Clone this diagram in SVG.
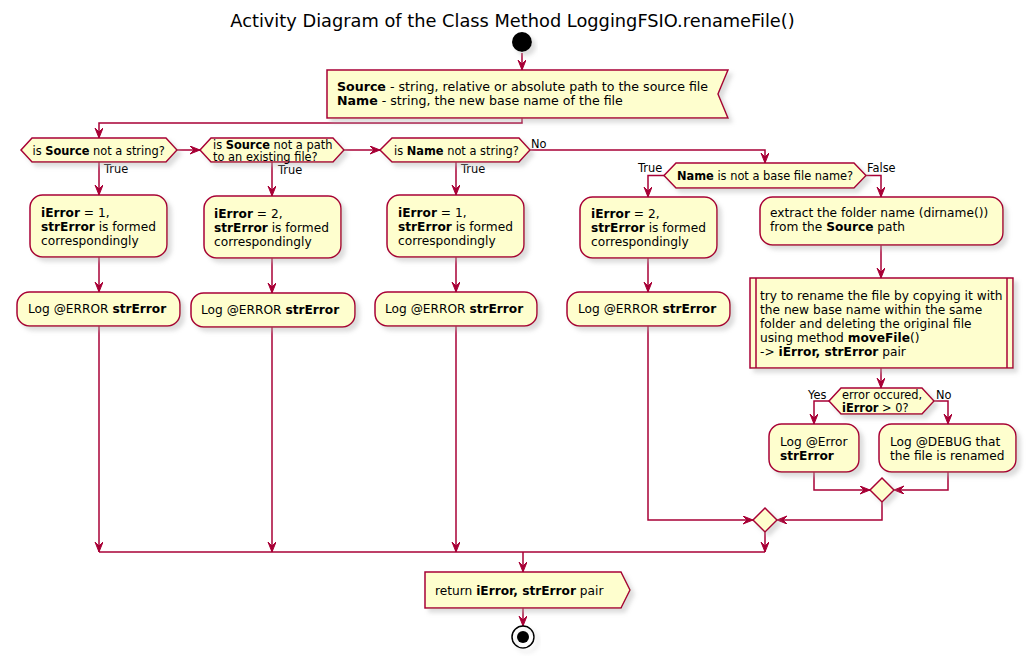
<svg xmlns="http://www.w3.org/2000/svg" width="1026" height="656" viewBox="0 0 1026 656">
<style>
.sh{fill:#FEFECE;stroke:#A80036;stroke-width:1.5}
.ln{fill:none;stroke:#A80036;stroke-width:1.5}
.t{font-family:"DejaVu Sans",sans-serif;font-size:12.2px;fill:#000}
.ti{font-family:"DejaVu Sans",sans-serif;font-size:12.6px;fill:#000}
.d{font-family:"DejaVu Sans",sans-serif;font-size:11.4px;fill:#000}
.b{font-weight:bold}
.title{font-family:"DejaVu Sans",sans-serif;font-size:17.8px;fill:#000}
</style>
<defs>
<filter id="shadow" x="-20%" y="-20%" width="150%" height="160%">
<feGaussianBlur in="SourceAlpha" stdDeviation="2"/>
<feOffset dx="4" dy="4"/>
<feColorMatrix type="matrix" values="0 0 0 0 0.45 0 0 0 0 0.45 0 0 0 0 0.45 0 0 0 0.45 0"/>
<feMerge><feMergeNode/><feMergeNode in="SourceGraphic"/></feMerge>
</filter>
<marker id="ah" markerUnits="userSpaceOnUse" markerWidth="12" markerHeight="10" refX="10" refY="4" orient="auto" viewBox="0 0 12 10">
<path d="M0,0 L10,4 L0,8 L4,4 Z" fill="#A80036" stroke="#A80036" stroke-width="1"/>
</marker>
</defs>
<rect width="1026" height="656" fill="#FFFFFF"/>
<text class="title" x="512.5" y="27" text-anchor="middle">Activity Diagram of the Class Method LoggingFSIO.renameFile()</text>

<g id="connectors">
<path class="ln" d="M522,53 V70" marker-end="url(#ah)"/>
<path class="ln" d="M522,118 V123 H99 V138" marker-end="url(#ah)"/>
<path class="ln" d="M177,150 H200" marker-end="url(#ah)"/>
<path class="ln" d="M344,150 H380" marker-end="url(#ah)"/>
<path class="ln" d="M530,150 H765 V163" marker-end="url(#ah)"/>
<path class="ln" d="M99,162 V195" marker-end="url(#ah)"/>
<path class="ln" d="M99,257 V292" marker-end="url(#ah)"/>
<path class="ln" d="M99,326 V552" marker-end="url(#ah)"/>
<path class="ln" d="M272,162 V196" marker-end="url(#ah)"/>
<path class="ln" d="M272,258 V293" marker-end="url(#ah)"/>
<path class="ln" d="M272,327 V552" marker-end="url(#ah)"/>
<path class="ln" d="M456,162 V195" marker-end="url(#ah)"/>
<path class="ln" d="M456,257 V292" marker-end="url(#ah)"/>
<path class="ln" d="M456,326 V552" marker-end="url(#ah)"/>
<path class="ln" d="M664,175.5 H648 V197" marker-end="url(#ah)"/>
<path class="ln" d="M648,258 V292" marker-end="url(#ah)"/>
<path class="ln" d="M648,326 V520 H753" marker-end="url(#ah)"/>
<path class="ln" d="M866,175.5 H881 V197" marker-end="url(#ah)"/>
<path class="ln" d="M881,245 V278" marker-end="url(#ah)"/>
<path class="ln" d="M881,368 V388" marker-end="url(#ah)"/>
<path class="ln" d="M829,401 H814 V424" marker-end="url(#ah)"/>
<path class="ln" d="M934,401 H948 V424" marker-end="url(#ah)"/>
<path class="ln" d="M814,472 V490 H870" marker-end="url(#ah)"/>
<path class="ln" d="M948,472 V490 H894" marker-end="url(#ah)"/>
<path class="ln" d="M882,502 V520 H777" marker-end="url(#ah)"/>
<path class="ln" d="M765,532 V552" marker-end="url(#ah)"/>
<path class="ln" d="M99,552 H765"/>
<path class="ln" d="M523,552 V572" marker-end="url(#ah)"/>
<path class="ln" d="M523,608 V626" marker-end="url(#ah)"/>
<text class="d" x="104" y="173">True</text>
<text class="d" x="278" y="174">True</text>
<text class="d" x="461" y="173">True</text>
<text class="d" x="531" y="148">No</text>
<text class="d" x="638" y="172">True</text>
<text class="d" x="867" y="172">False</text>
<text class="d" x="808" y="399">Yes</text>
<text class="d" x="936" y="399">No</text>
</g>

<g id="start">
<circle cx="522" cy="42" r="10" fill="#000" filter="url(#shadow)"/>
</g>

<g id="input">
<polygon class="sh" filter="url(#shadow)" points="327,70 728,70 718,94 728,118 327,118"/>
<text class="ti" x="337" y="91"><tspan class="b">Source</tspan> - string, relative or absolute path to the source file</text>
<text class="ti" x="337" y="105"><tspan class="b">Name</tspan> - string, the new base name of the file</text>
</g>

<g id="d1">
<polygon class="sh" filter="url(#shadow)" points="21,150 32,138 166,138 177,150 166,162 32,162"/>
<text class="d" x="32.5" y="155">is <tspan class="b">Source</tspan> not a string?</text>
</g>

<g id="d2">
<polygon class="sh" filter="url(#shadow)" points="200,150 211,138 333,138 344,150 333,162 211,162"/>
<text class="d" x="213" y="148.5">is <tspan class="b">Source</tspan> not a path</text>
<text class="d" x="213" y="160.5">to an existing file?</text>
</g>

<g id="d3">
<polygon class="sh" filter="url(#shadow)" points="380,150 392,138 519,138 530,150 519,162 392,162"/>
<text class="d" x="394" y="155">is <tspan class="b">Name</tspan> not a string?</text>
</g>

<g id="a1">
<rect class="sh" filter="url(#shadow)" x="30" y="195" width="137" height="62" rx="12.5"/>
<text class="t" x="41" y="217"><tspan class="b">iError</tspan> = 1,</text>
<text class="t" x="41" y="231"><tspan class="b">strError</tspan> is formed</text>
<text class="t" x="41" y="245">correspondingly</text>
</g>
<g id="log1">
<rect class="sh" filter="url(#shadow)" x="17" y="292" width="163" height="34" rx="12.5"/>
<text class="t" x="28" y="313">Log @ERROR <tspan class="b">strError</tspan></text>
</g>

<g id="a2">
<rect class="sh" filter="url(#shadow)" x="204" y="196" width="137" height="62" rx="12.5"/>
<text class="t" x="214" y="218"><tspan class="b">iError</tspan> = 2,</text>
<text class="t" x="214" y="232"><tspan class="b">strError</tspan> is formed</text>
<text class="t" x="214" y="246">correspondingly</text>
</g>
<g id="log2">
<rect class="sh" filter="url(#shadow)" x="191" y="293" width="164" height="34" rx="12.5"/>
<text class="t" x="201" y="314">Log @ERROR <tspan class="b">strError</tspan></text>
</g>

<g id="a3">
<rect class="sh" filter="url(#shadow)" x="387" y="195" width="137" height="62" rx="12.5"/>
<text class="t" x="398" y="217"><tspan class="b">iError</tspan> = 1,</text>
<text class="t" x="398" y="231"><tspan class="b">strError</tspan> is formed</text>
<text class="t" x="398" y="245">correspondingly</text>
</g>
<g id="log3">
<rect class="sh" filter="url(#shadow)" x="375" y="292" width="162" height="34" rx="12.5"/>
<text class="t" x="385" y="313">Log @ERROR <tspan class="b">strError</tspan></text>
</g>

<g id="d4">
<polygon class="sh" filter="url(#shadow)" points="664,175.5 676,163 854,163 866,175.5 854,188 676,188"/>
<text class="d" x="677" y="180"><tspan class="b">Name</tspan> is not a base file name?</text>
</g>

<g id="a4">
<rect class="sh" filter="url(#shadow)" x="580" y="197" width="137" height="61" rx="12.5"/>
<text class="t" x="591" y="218"><tspan class="b">iError</tspan> = 2,</text>
<text class="t" x="591" y="232"><tspan class="b">strError</tspan> is formed</text>
<text class="t" x="591" y="246">correspondingly</text>
</g>
<g id="log4">
<rect class="sh" filter="url(#shadow)" x="567" y="292" width="163" height="34" rx="12.5"/>
<text class="t" x="578" y="313">Log @ERROR <tspan class="b">strError</tspan></text>
</g>

<g id="extract">
<rect class="sh" filter="url(#shadow)" x="760" y="197" width="243" height="48" rx="12.5"/>
<text class="t" x="770" y="217">extract the folder name (dirname())</text>
<text class="t" x="770" y="231">from the <tspan class="b">Source</tspan> path</text>
</g>

<g id="rename">
<rect class="sh" filter="url(#shadow)" x="750" y="278" width="263" height="90"/>
<line class="ln" x1="756" y1="278" x2="756" y2="368"/>
<line class="ln" x1="1007" y1="278" x2="1007" y2="368"/>
<text class="t" x="760" y="300">try to rename the file by copying it with</text>
<text class="t" x="760" y="314">the new base name within the same</text>
<text class="t" x="760" y="328">folder and deleting the original file</text>
<text class="t" x="760" y="342">using method <tspan class="b">moveFile</tspan>()</text>
<text class="t" x="760" y="356">-&gt; <tspan class="b">iError, strError</tspan> pair</text>
</g>

<g id="d5">
<polygon class="sh" filter="url(#shadow)" points="829,401 841,388 922,388 934,401 922,414 841,414"/>
<text class="d" x="842" y="399">error occured,</text>
<text class="d" x="842" y="412"><tspan class="b">iError</tspan> &gt; 0?</text>
</g>

<g id="logerr">
<rect class="sh" filter="url(#shadow)" x="769" y="424" width="90" height="48" rx="12.5"/>
<text class="t" x="780" y="446">Log @Error</text>
<text class="t b" x="780" y="460">strError</text>
</g>

<g id="logdebug">
<rect class="sh" filter="url(#shadow)" x="879" y="424" width="137" height="48" rx="12.5"/>
<text class="t" x="890" y="446">Log @DEBUG that</text>
<text class="t" x="890" y="460">the file is renamed</text>
</g>

<g id="merge1">
<polygon class="sh" filter="url(#shadow)" points="882,478 894,490 882,502 870,490"/>
</g>
<g id="merge2">
<polygon class="sh" filter="url(#shadow)" points="765,508 777,520 765,532 753,520"/>
</g>

<g id="return">
<polygon class="sh" filter="url(#shadow)" points="425,572 621,572 630,590 621,608 425,608"/>
<text class="t" x="435" y="595">return <tspan class="b">iError, strError</tspan> pair</text>
</g>

<g id="end">
<circle cx="523" cy="637" r="11" fill="none" stroke="#000" stroke-width="1.5" filter="url(#shadow)"/>
<circle cx="523" cy="637" r="6" fill="#000"/>
</g>
</svg>
